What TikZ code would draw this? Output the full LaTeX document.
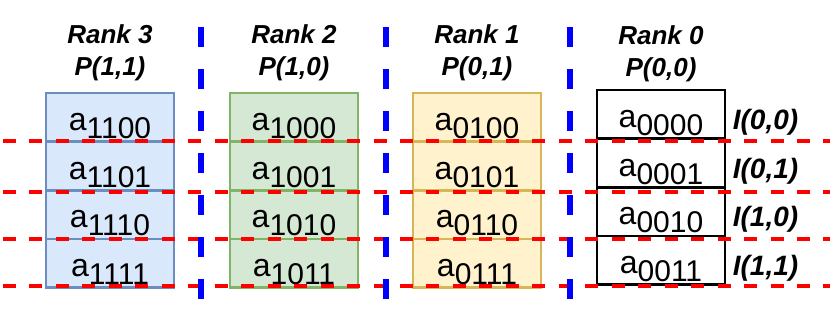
\documentclass[tikz,border=0pt]{standalone}
\usepackage{fontspec}
\setmainfont{Liberation Sans}
\usetikzlibrary{positioning}

\definecolor{fillblue}{HTML}{DAE8FC}
\definecolor{lineblue}{HTML}{6C8EBF}
\definecolor{fillgreen}{HTML}{D5E8D4}
\definecolor{linegreen}{HTML}{82B366}
\definecolor{fillyellow}{HTML}{FFF2CC}
\definecolor{lineyellow}{HTML}{D6B656}
\definecolor{sepred}{HTML}{FF0000}
\definecolor{sepblue}{HTML}{0000FF}

\newcommand{\elem}[1]{a\lower6pt\hbox{\fontsize{22.5pt}{26pt}\selectfont #1}}

\tikzset{every picture/.style={line width=0.75pt}}

\begin{document}
\begin{tikzpicture}[x=0.75pt,y=0.75pt,yscale=-1,xscale=1,
  node distance=0pt,
  cellbox/.style={draw, line width=2pt, inner sep=0pt, outer sep=0pt,
    minimum width=96pt, text height=28pt, text depth=8.5pt,
    font=\fontsize{24pt}{28pt}\selectfont},
  rankhead/.style={align=center, inner sep=0pt,
    font=\fontsize{19.5pt}{24pt}\selectfont\bfseries\itshape},
  idxlabel/.style={inner sep=0pt, anchor=base west,
    font=\fontsize{21pt}{24pt}\selectfont\bfseries\itshape},
  rowsep/.style={sepred, line width=3pt, dash pattern=on 9.75pt off 10.1pt},
  colsep/.style={sepblue, line width=4.5pt, dash pattern=on 15pt off 16.5pt}]
\useasboundingbox (0,0) rectangle (830,310);

%Rank 3 column
\node [cellbox, fill=fillblue, draw=lineblue] (c3a) at (110,117.4) {\elem{1100}};
\node [cellbox, fill=fillblue, draw=lineblue, below=of c3a] (c3b) {\elem{1101}};
\node [cellbox, fill=fillblue, draw=lineblue, below=of c3b] (c3c) {\elem{1110}};
\node [cellbox, fill=fillblue, draw=lineblue, below=of c3c] (c3d) {\elem{1111}};
%Rank 2 column
\node [cellbox, fill=fillgreen, draw=linegreen] (c2a) at (294,117.4) {\elem{1000}};
\node [cellbox, fill=fillgreen, draw=linegreen, below=of c2a] (c2b) {\elem{1001}};
\node [cellbox, fill=fillgreen, draw=linegreen, below=of c2b] (c2c) {\elem{1010}};
\node [cellbox, fill=fillgreen, draw=linegreen, below=of c2c] (c2d) {\elem{1011}};
%Rank 1 column
\node [cellbox, fill=fillyellow, draw=lineyellow] (c1a) at (477,117.4) {\elem{0100}};
\node [cellbox, fill=fillyellow, draw=lineyellow, below=of c1a] (c1b) {\elem{0101}};
\node [cellbox, fill=fillyellow, draw=lineyellow, below=of c1b] (c1c) {\elem{0110}};
\node [cellbox, fill=fillyellow, draw=lineyellow, below=of c1c] (c1d) {\elem{0111}};
%Rank 0 column
\node [cellbox, fill=white, draw=black] (c0a) at (661,114.4) {\elem{0000}};
\node [cellbox, fill=white, draw=black, below=of c0a] (c0b) {\elem{0001}};
\node [cellbox, fill=white, draw=black, below=of c0b] (c0c) {\elem{0010}};
\node [cellbox, fill=white, draw=black, below=of c0c] (c0d) {\elem{0011}};

% Text Node
\node [rankhead, above=9pt of c3a] (h3) {Rank 3\\P(1,1)};
% Text Node
\node [rankhead, above=9pt of c2a] (h2) {Rank 2\\P(1,0)};
% Text Node
\node [rankhead, above=9pt of c1a] (h1) {Rank 1\\P(0,1)};
% Text Node
\node [rankhead, above=6pt of c0a] (h0) {Rank 0\\P(0,0)};

% Text Node
\node [idxlabel] (i00) at ([xshift=5.5pt,yshift=1.5pt]c0a.base east) {I(0,0)};
% Text Node
\node [idxlabel] (i01) at ([xshift=5.5pt,yshift=1.5pt]c0b.base east) {I(0,1)};
% Text Node
\node [idxlabel] (i10) at ([xshift=5.5pt,yshift=1.5pt]c0c.base east) {I(1,0)};
% Text Node
\node [idxlabel] (i11) at ([xshift=5.5pt,yshift=1.5pt]c0d.base east) {I(1,1)};

%Dashed separators
\draw [rowsep] (3,141) -- (830,141);
\draw [rowsep] (3,192) -- (830,192);
\draw [rowsep] (3,239) -- (830,239);
\draw [rowsep] (3,286) -- (830,286);
\draw [colsep] (201,27) -- (201,303);
\draw [colsep] (386,27) -- (386,303);
\draw [colsep] (570,27) -- (570,303);

\end{tikzpicture}
\end{document}
